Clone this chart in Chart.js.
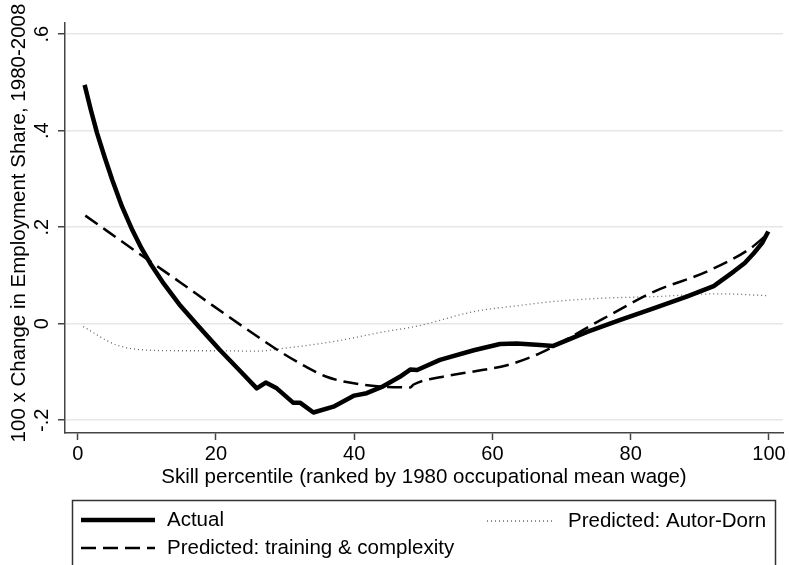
<!DOCTYPE html>
<html>
<head>
<meta charset="utf-8">
<script src="https://cdn.jsdelivr.net/npm/chart.js@4"></script>
<style>
  html, body { margin: 0; padding: 0; background: #fff; }
  canvas { display: block; }
</style>
</head>
<body>
<canvas id="chart" width="789" height="565"></canvas>
<script>
// data
const actualX = [1, 1.9, 2.8, 3.9, 5, 6.4, 7.9, 9.2, 10.5, 12.5, 14.7, 17.5, 20.6, 23.5, 25.9, 27.2, 28.8, 31.2, 32.2, 34.1, 37, 40, 41.8, 44, 46.6, 48.1, 49.1, 52.4, 57.3, 61.1, 63.5, 66.9, 68.8, 73.7, 78.5, 83.3, 88.1, 92, 94.9, 96.5, 97.8, 99, 99.9];
const actualY = [0.495, 0.443, 0.395, 0.345, 0.298, 0.243, 0.194, 0.157, 0.125, 0.082, 0.04, -0.006, -0.055, -0.098, -0.134, -0.122, -0.134, -0.164, -0.164, -0.184, -0.172, -0.149, -0.144, -0.131, -0.110, -0.095, -0.096, -0.075, -0.055, -0.042, -0.041, -0.044, -0.046, -0.017, 0.008, 0.032, 0.056, 0.078, 0.108, 0.126, 0.146, 0.167, 0.191];

const trainingX = [1.1, 10.3, 14.8, 19.4, 23.8, 29.3, 33, 36, 38.9, 43.7, 48.1, 48.6, 52.4, 57.3, 62.1, 66.9, 76.1, 83.3, 91, 97.3, 99.9];
const trainingY = [0.224, 0.131, 0.086, 0.039, -0.005, -0.058, -0.089, -0.110, -0.121, -0.130, -0.132, -0.126, -0.111, -0.099, -0.086, -0.061, 0.011, 0.066, 0.108, 0.156, 0.187];

const autorDornX = [0.8, 5.6, 10.5, 15, 20.1, 25.9, 29.8, 37, 44.2, 49.1, 57.3, 64, 68.8, 76.1, 83.3, 92.9, 99.9];
const autorDornY = [-0.006, -0.044, -0.055, -0.056, -0.056, -0.057, -0.051, -0.037, -0.017, -0.005, 0.025, 0.038, 0.046, 0.053, 0.056, 0.062, 0.058];

const yTicks = [-0.2, 0, 0.2, 0.4, 0.6];
const yTickLabels = ['-.2', '0', '.2', '.4', '.6'];
const xTicks = [0, 20, 40, 60, 80, 100];
const xTickLabels = ['0', '20', '40', '60', '80', '100'];

const seriesLabels = ['Actual', 'Predicted: training & complexity', 'Predicted: Autor-Dorn'];
const yTitle = '100 x Change in Employment Share, 1980-2008';
const xTitle = 'Skill percentile (ranked by 1980 occupational mean wage)';

const FONT = '"Liberation Sans", Arial, sans-serif';
const AXIS = '#444';

function pts(xs, ys) {
  return xs.map((x, i) => ({ x: x, y: ys[i] }));
}

// texte + legenda kreslime sami (rotované popisky osy y)
const stataText = {
  id: 'stataText',
  afterDraw(chart) {
    const ctx = chart.ctx;
    const xs = chart.scales.x;
    const ys = chart.scales.y;
    const area = chart.chartArea;
    ctx.save();
    ctx.fillStyle = '#000';

    // y tick labels
    ctx.font = '20px ' + FONT;
    ctx.textAlign = 'center';
    ctx.textBaseline = 'middle';
    yTicks.forEach((v, i) => {
      ctx.save();
      ctx.translate(42, ys.getPixelForValue(v));
      ctx.rotate(-Math.PI / 2);
      ctx.fillText(yTickLabels[i], 0, 0);
      ctx.restore();
    });

    // y title
    ctx.font = '20.5px ' + FONT;
    ctx.save();
    ctx.translate(19, 223);
    ctx.rotate(-Math.PI / 2);
    ctx.fillText(yTitle, 0, 0);
    ctx.restore();

    // x tick labels
    ctx.font = '20px ' + FONT;
    xTicks.forEach((v, i) => {
      ctx.fillText(xTickLabels[i], xs.getPixelForValue(v), 454);
    });

    // x title
    ctx.font = '20.5px ' + FONT;
    ctx.fillText(xTitle, (area.left + area.right) / 2, 477);

    // legend
    ctx.strokeStyle = '#333';
    ctx.lineWidth = 1.5;
    ctx.strokeRect(72.5, 500.5, 703, 80);

    const ds = chart.data.datasets;
    const items = [
      { d: ds[0], x: 81, len: 74, tx: 167, y: 520 },
      { d: ds[2], x: 487, len: 65, tx: 568, y: 521 },
      { d: ds[1], x: 81, len: 74, tx: 167, y: 548 }
    ];
    ctx.textAlign = 'left';
    items.forEach(it => {
      const d = it.d;
      ctx.save();
      ctx.strokeStyle = d.borderColor;
      ctx.lineWidth = d.borderWidth;
      ctx.setLineDash(d.borderDash || []);
      ctx.beginPath();
      ctx.moveTo(it.x, it.y);
      ctx.lineTo(it.x + it.len, it.y);
      ctx.stroke();
      ctx.restore();
      ctx.fillText(d.label, it.tx, it.y);
    });
    ctx.restore();
  }
};

new Chart(document.getElementById('chart'), {
  type: 'line',
  data: {
    datasets: [
      {
        label: seriesLabels[0],
        data: pts(actualX, actualY),
        borderColor: '#000',
        borderWidth: 4.5,
        borderJoinStyle: 'round',
        borderCapStyle: 'butt',
        tension: 0,
        pointRadius: 0,
        fill: false
      },
      {
        label: seriesLabels[1],
        data: pts(trainingX, trainingY),
        borderColor: '#000',
        borderWidth: 2.5,
        borderDash: [15, 7],
        cubicInterpolationMode: 'monotone',
        pointRadius: 0,
        fill: false
      },
      {
        label: seriesLabels[2],
        data: pts(autorDornX, autorDornY),
        borderColor: '#666',
        borderWidth: 1.3,
        borderDash: [1, 3],
        cubicInterpolationMode: 'monotone',
        pointRadius: 0,
        fill: false
      }
    ]
  },
  options: {
    responsive: false,
    animation: false,
    devicePixelRatio: 1,
    layout: { padding: { top: 23, right: 6, left: 0, bottom: 0 } },
    plugins: {
      legend: { display: false },
      tooltip: { enabled: false }
    },
    scales: {
      x: {
        type: 'linear',
        min: -1.84,
        max: 102.03,
        afterBuildTicks: s => { s.ticks = xTicks.map(v => ({ value: v })); },
        afterFit: s => { s.height = 132; },
        ticks: { display: false },
        grid: { drawOnChartArea: false, tickLength: 7, tickColor: AXIS, tickWidth: 1.5 },
        border: { color: AXIS, width: 1.5 }
      },
      y: {
        min: -0.2265,
        max: 0.6232,
        afterBuildTicks: s => { s.ticks = yTicks.map(v => ({ value: v })); },
        afterFit: s => { s.width = 65; },
        ticks: { display: false },
        grid: { color: '#e6e6e6', lineWidth: 1.5, tickLength: 7, tickColor: AXIS, tickWidth: 1.5 },
        border: { color: AXIS, width: 1.5 }
      }
    }
  },
  plugins: [stataText]
});
</script>
</body>
</html>
